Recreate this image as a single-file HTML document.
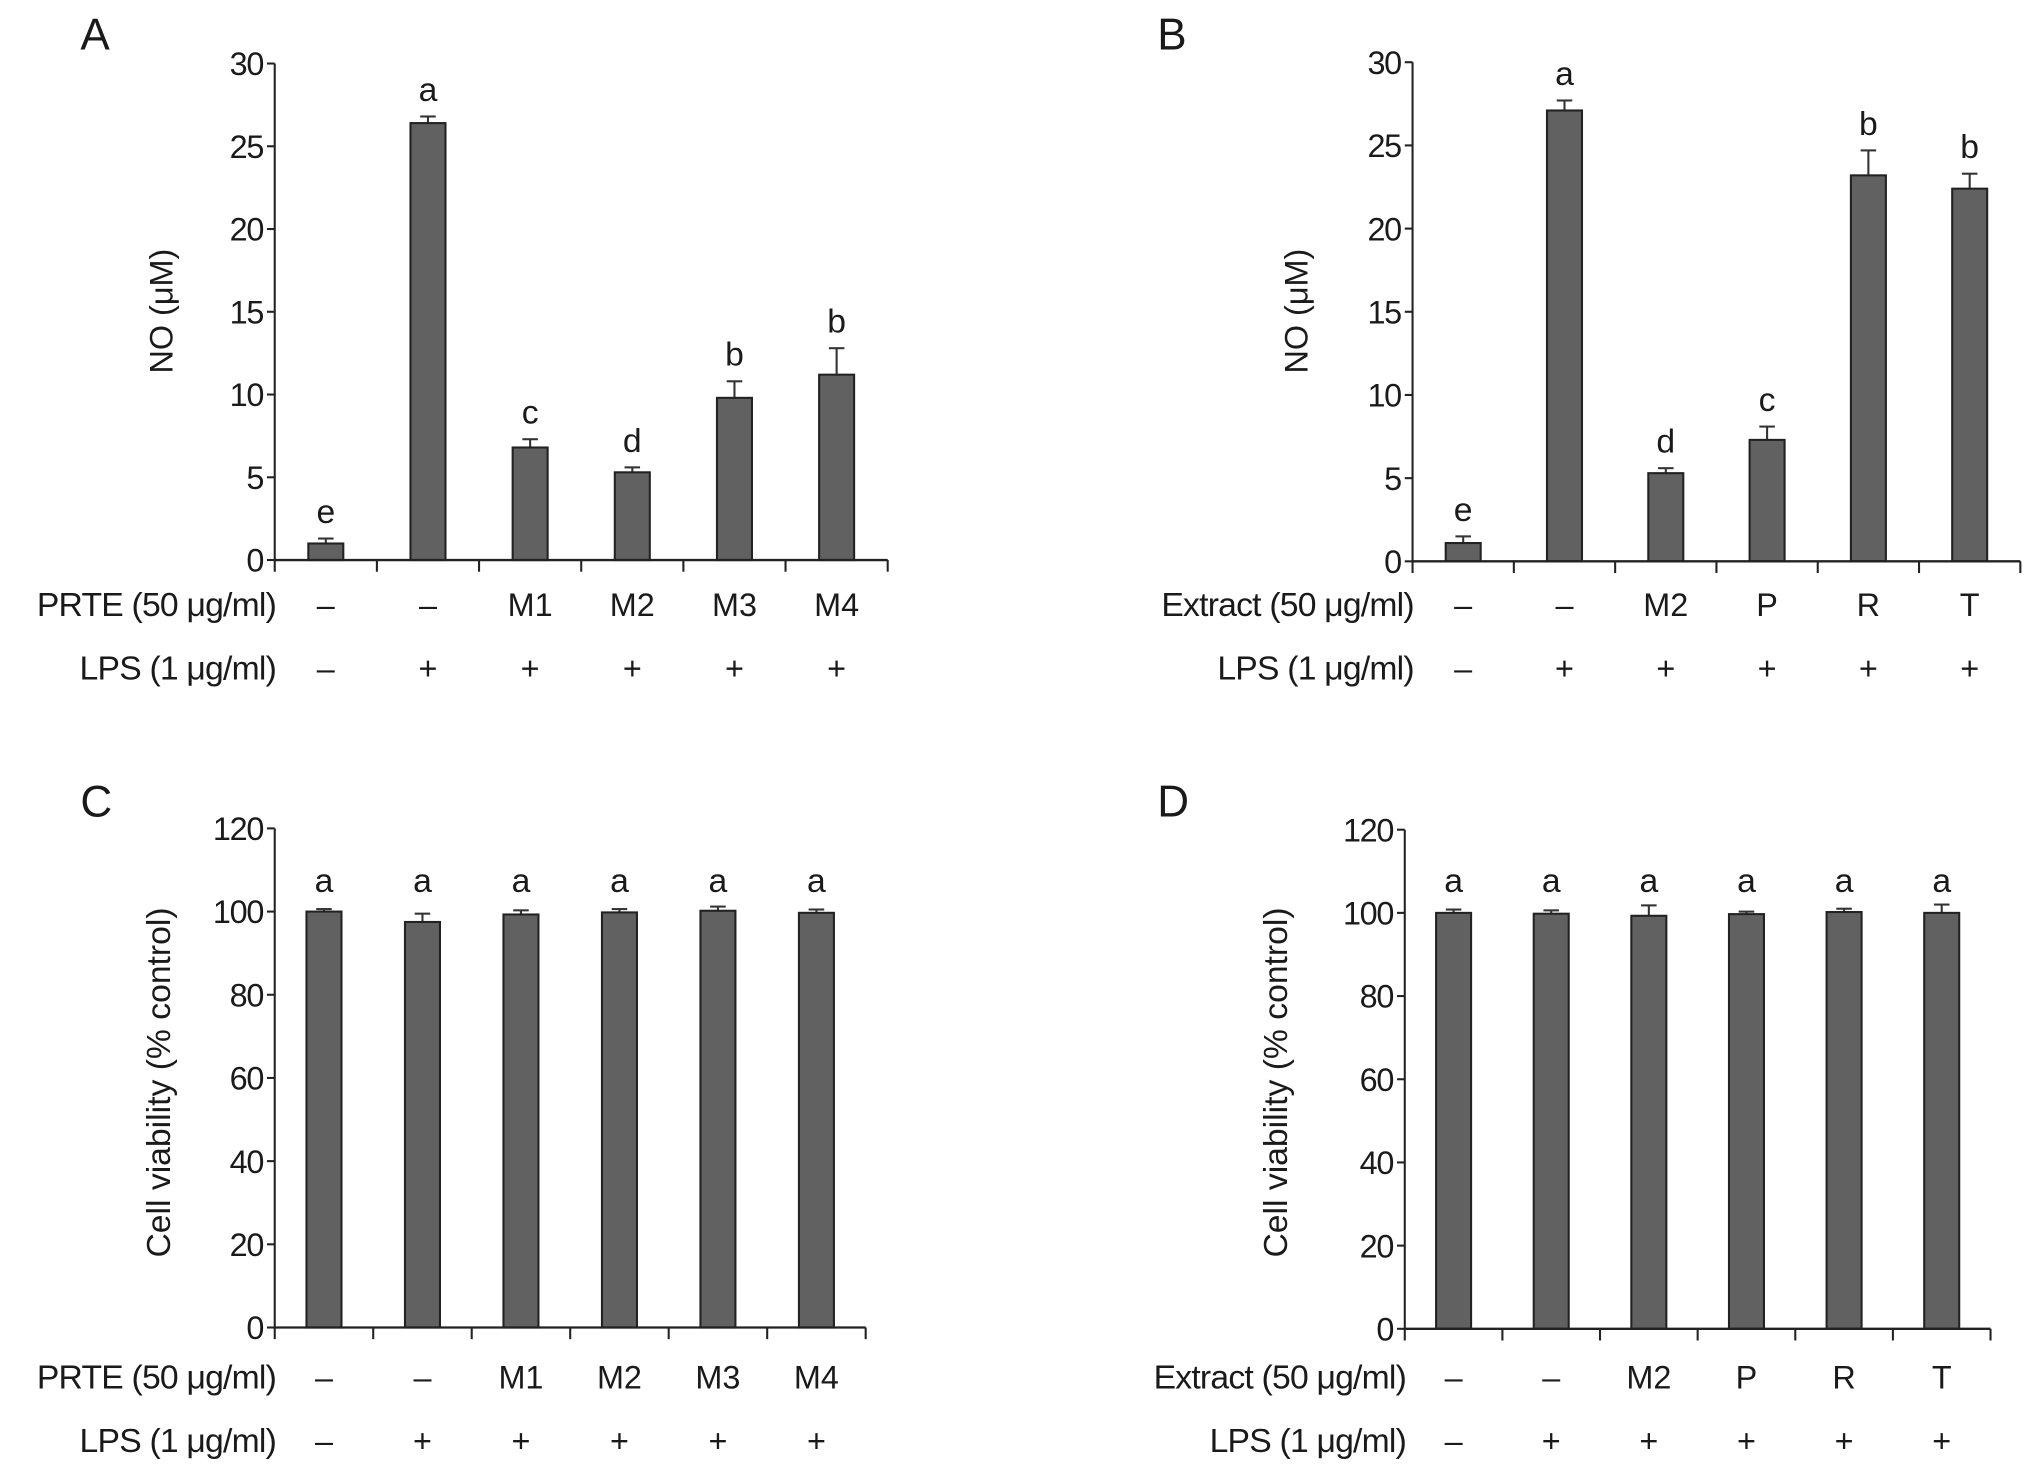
<!DOCTYPE html>
<html><head><meta charset="utf-8"><style>
html,body{margin:0;padding:0;background:#fff;}
svg{display:block;}
text{font-family:"Liberation Sans",sans-serif;fill:#1a1a1a;}
</style></head><body>
<svg id="fig" width="2032" height="1474" viewBox="0 0 1568 1137" preserveAspectRatio="none" xmlns="http://www.w3.org/2000/svg"></svg>
<script>
const valsA = [1.0, 26.4, 6.8, 5.3, 9.8, 11.2];
const errA  = [0.3, 0.4, 0.5, 0.3, 1.0, 1.6];
const letA  = ['e','a','c','d','b','b'];
const valsB = [1.1, 27.1, 5.3, 7.3, 23.2, 22.4];
const errB  = [0.4, 0.6, 0.3, 0.8, 1.5, 0.9];
const letB  = ['e','a','d','c','b','b'];
const valsC = [100, 97.5, 99.3, 99.8, 100.2, 99.7];
const errC  = [0.6, 2.0, 1.0, 0.8, 1.0, 0.8];
const valsD = [100, 99.8, 99.3, 99.7, 100.2, 100];
const errD  = [0.8, 0.8, 2.5, 0.6, 0.8, 2.0];
const letCD = ['a','a','a','a','a','a'];
const row1A = ['–','–','M1','M2','M3','M4'];
const row1B = ['–','–','M2','P','R','T'];
const row2  = ['–','+','+','+','+','+'];
const ticksNO = [0,5,10,15,20,25,30];
const ticksCV = [0,20,40,60,80,100,120];

const NS='http://www.w3.org/2000/svg';
const svg=document.getElementById('fig');
function mk(tag,attrs,parent){const e=document.createElementNS(NS,tag);for(const k in attrs)e.setAttribute(k,attrs[k]);(parent||svg).appendChild(e);return e;}
function txt(s,x,y,size,anchor,parent){const t=mk('text',{x:x,y:y,'font-size':size,'text-anchor':anchor||'middle'},parent);t.textContent=s;return t;}

function panel(cfg){
  const g=mk('g',{});
  
  
  const x0=cfg.x0,x1=cfg.x1,y0=cfg.y0,yT=cfg.yT,max=cfg.ticks[cfg.ticks.length-1];
  const ys=v=>y0-(v/max)*(y0-yT);
  const n=cfg.vals.length, cw=(x1-x0)/n;
  const xc=i=>x0+cw*(i+0.5);
  const lab=txt(cfg.id,cfg.lx,cfg.ly,34,'start',g);
  
  
  cfg.vals.forEach((v,i)=>{
    const bw=27, top=ys(v), eb=ys(v+cfg.err[i]);
    const ln=mk('line',{x1:xc(i),x2:xc(i),y1:top,y2:eb,stroke:'#333','stroke-width':1.6},g);
    
    
    mk('line',{x1:xc(i)-6,x2:xc(i)+6,y1:eb,y2:eb,stroke:'#333','stroke-width':1.6},g);
    const r=mk('rect',{x:xc(i)-bw/2,y:top,width:bw,height:y0-top,fill:'#616161',stroke:'#222','stroke-width':1.6},g);
    
    
    const ly = cfg.letterY ? cfg.letterY : eb-12;
    const l=txt(cfg.letters[i],xc(i),ly,26,'middle',g);
    
    
    const a=txt(cfg.row1[i],xc(i),cfg.r1,25,'middle',g);
    
    
    const b=txt(cfg.row2[i],xc(i),cfg.r2,25,'middle',g);
    
    
  });
  const ya=mk('line',{x1:x0,x2:x0,y1:yT,y2:y0+9,stroke:'#222','stroke-width':1.6},g);
  
  
  const xa=mk('line',{x1:x0,x2:x1,y1:y0,y2:y0,stroke:'#222','stroke-width':1.8},g);
  
  
  for(let i=1;i<=n;i++) mk('line',{x1:x0+cw*i,x2:x0+cw*i,y1:y0,y2:y0+9,stroke:'#222','stroke-width':1.6},g);
  cfg.ticks.forEach(t=>{
    mk('line',{x1:x0-6,x2:x0,y1:ys(t),y2:ys(t),stroke:'#222','stroke-width':1.6},g);
    const tl=txt(String(t),x0-9,ys(t)+9,25,'end',g);
    tl.setAttribute('letter-spacing','-1');
    
    
  });
  const yt=txt(cfg.ytitle,0,0,cfg.tsize,'middle',g);
  yt.setAttribute('transform','translate('+cfg.tx+','+cfg.ty+') rotate(-90)');
  
  
  const rl1=txt(cfg.rowname,x0+1,cfg.r1,26,'end',g);
  rl1.setAttribute('letter-spacing','-0.6');
  
  
  const rl2=txt('LPS (1 μg/ml)',x0+1,cfg.r2,26,'end',g);
  rl2.setAttribute('letter-spacing','-0.6');
  
  
}
panel({id:'A',lx:62,ly:38,x0:212,x1:685,y0:432,yT:49,ticks:ticksNO,vals:valsA,err:errA,letters:letA,row1:row1A,row2:row2,r1:475,r2:524,ytitle:'NO (μM)',tsize:25,tx:133,ty:240,rowname:'PRTE (50 μg/ml)'});
panel({id:'B',lx:893,ly:38,x0:1090,x1:1559,y0:433,yT:48,ticks:ticksNO,vals:valsB,err:errB,letters:letB,row1:row1B,row2:row2,r1:475,r2:524,ytitle:'NO (μM)',tsize:25,tx:1009,ty:240,rowname:'Extract (50 μg/ml)'});
panel({id:'C',lx:62,ly:630,x0:212,x1:668,y0:1024,yT:639,ticks:ticksCV,vals:valsC,err:errC,letters:letCD,letterY:688,row1:row1A,row2:row2,r1:1071,r2:1120,ytitle:'Cell viability (% control)',tsize:26,tx:131,ty:835,rowname:'PRTE (50 μg/ml)'});
panel({id:'D',lx:893,ly:630,x0:1084,x1:1536,y0:1025,yT:640,ticks:ticksCV,vals:valsD,err:errD,letters:letCD,letterY:688,row1:row1B,row2:row2,r1:1071,r2:1120,ytitle:'Cell viability (% control)',tsize:26,tx:993,ty:835,rowname:'Extract (50 μg/ml)'});
</script>
</body></html>
